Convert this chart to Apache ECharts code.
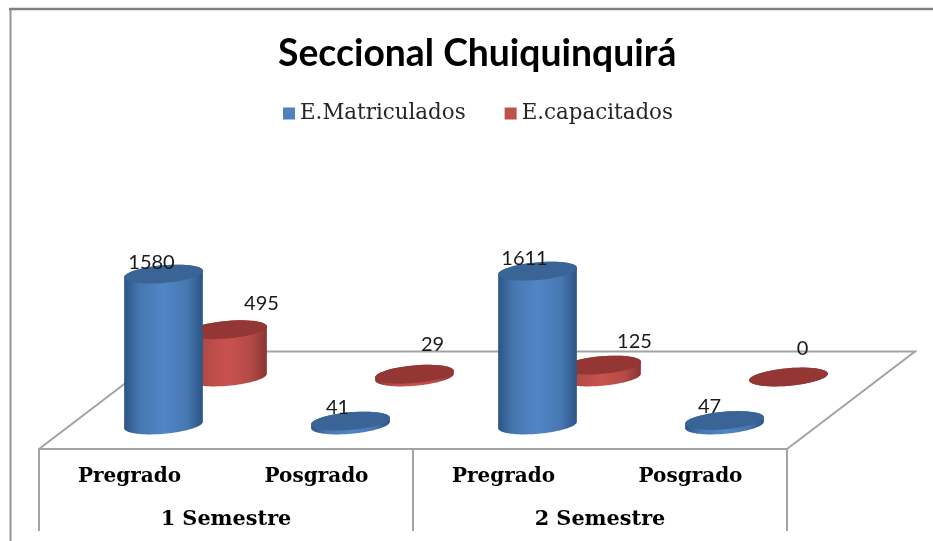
<!DOCTYPE html>
<html><head><meta charset="utf-8">
<style>html,body{margin:0;padding:0;background:#fff}#c{width:933px;height:541px}</style>
<script src="https://cdn.jsdelivr.net/npm/echarts@6/dist/echarts.min.js"></script>
</head><body><div id="c"></div>
<script>
const levels = ['Pregrado','Posgrado','Pregrado','Posgrado'];
const semesters = ['1 Semestre','2 Semestre'];
const matriculados = [1580,41,1611,47];
const capacitados = [495,29,125,0];
const seriesNames = ['E.Matriculados','E.capacitados'];
const titleText = 'Seccional Chuiquinquirá';

// presentation constants
const frontDx = 31, backDx = 95, backDy = -48;
const RX = 39.5, RY = 8.8, TILT = 5 * Math.PI / 180;
const frontLabelNudge = [[-12,-12],[-13,-14],[-13,-13],[-15,-14]];
const backLabelNudge = [[34,-26],[18,-30],[33,-24],[14,-28]];
const GRAY = '#a3a3a3';

function ellipsePt(cx, cy, t){
  const c = Math.cos(t), s = Math.sin(t);
  return [cx + RX*c*Math.cos(TILT) + RY*s*Math.sin(TILT),
          cy - RX*c*Math.sin(TILT) + RY*s*Math.cos(TILT)];
}
function arc(cx, cy, from, to){
  const pts = [];
  for (let i = 0; i <= 48; i++) pts.push(ellipsePt(cx, cy, from + (to-from)*i/48));
  return pts;
}
function cylinder(dx, dy, colors, nudges){
  return function(params, api){
    const i = params.dataIndex;
    const v = api.value(1);
    const base = api.coord([api.value(0), 0]);
    const top = api.coord([api.value(0), v]);
    const cx = base[0] + dx, by = base[1] + dy, ty = top[1] + dy;
    const body = arc(cx, by, 0, Math.PI).concat(arc(cx, ty, Math.PI, 2*Math.PI));
    return {
      type:'group',
      children:[
        {type:'polygon', shape:{points:body}, style:{fill:{
          type:'linear',x:0,y:0,x2:1,y2:0,
          colorStops:[
            {offset:0,color:colors[0]},{offset:0.2,color:colors[3]},{offset:0.5,color:colors[1]},
            {offset:0.8,color:colors[3]},{offset:1,color:colors[0]}]
        }}},
        {type:'polygon', shape:{points:arc(cx, ty, 0, 2*Math.PI)}, style:{fill:colors[2]}},
        {type:'text', z2:10, style:{
          x:cx+nudges[i][0], y:ty+nudges[i][1], text:String(v), align:'center', verticalAlign:'middle',
          font:'20px Lato', fill:'#1a1a1a'
        }}
      ]
    };
  };
}
const chart = echarts.init(document.getElementById('c'), null, {renderer:'canvas'});
chart.setOption({
  animation:false,
  backgroundColor:'#fff',
  title:{text:titleText,left:278,top:35,padding:0,textStyle:{fontFamily:'Lato',fontWeight:'bold',fontSize:37.3,color:'#000'}},
  legend:{data:seriesNames,left:283,top:103,icon:'rect',itemWidth:12,itemHeight:12,itemGap:39,padding:0,
    textStyle:{fontFamily:'DejaVu Serif',fontSize:21.4,color:'#262626'}},
  grid:{left:39,right:146,top:234,bottom:116},
  xAxis:[
    {type:'category',data:levels,position:'bottom',axisLine:{show:false},axisTick:{show:false},
     axisLabel:{margin:42,interval:0,padding:[0,6,0,0],fontFamily:'DejaVu Serif',fontWeight:'bold',fontSize:20,color:'#000'}},
    {type:'category',data:semesters,position:'bottom',offset:24,
     axisLine:{lineStyle:{color:GRAY,width:2}},
     axisTick:{show:true,length:82,lineStyle:{color:GRAY,width:2}},
     axisLabel:{margin:60,interval:0,fontFamily:'DejaVu Serif',fontWeight:'bold',fontSize:20.8,color:'#000'}}
  ],
  yAxis:{type:'value',min:0,max:2000,show:false},
  graphic:[
    {type:'polyline',silent:true,z:0,shape:{points:[[39,449],[167,351.5],[915,351.5],[787,449]]},style:{stroke:GRAY,lineWidth:2,fill:null}},
    {type:'line',silent:true,z:0,shape:{x1:10.5,y1:9,x2:10.5,y2:541},style:{stroke:'#959595',lineWidth:2}},
    {type:'line',silent:true,z:0,shape:{x1:9,y1:9,x2:933,y2:9},style:{stroke:'#808080',lineWidth:2.5}}
  ],
  series:[
    {name:seriesNames[1],type:'custom',z:3,itemStyle:{color:'#c0504d'},
     renderItem:cylinder(backDx, backDy, ['#8a3431','#c9524f','#943634','#b34a47'], backLabelNudge),
     data:capacitados.map((v,i)=>[i,v]),encode:{x:0,y:1}},
    {name:seriesNames[0],type:'custom',z:4,itemStyle:{color:'#4f81bd'},
     renderItem:cylinder(frontDx, 0, ['#2c5587','#5186c6','#3a6496','#4677b0'], frontLabelNudge),
     data:matriculados.map((v,i)=>[i,v]),encode:{x:0,y:1}}
  ]
});
</script></body></html>
